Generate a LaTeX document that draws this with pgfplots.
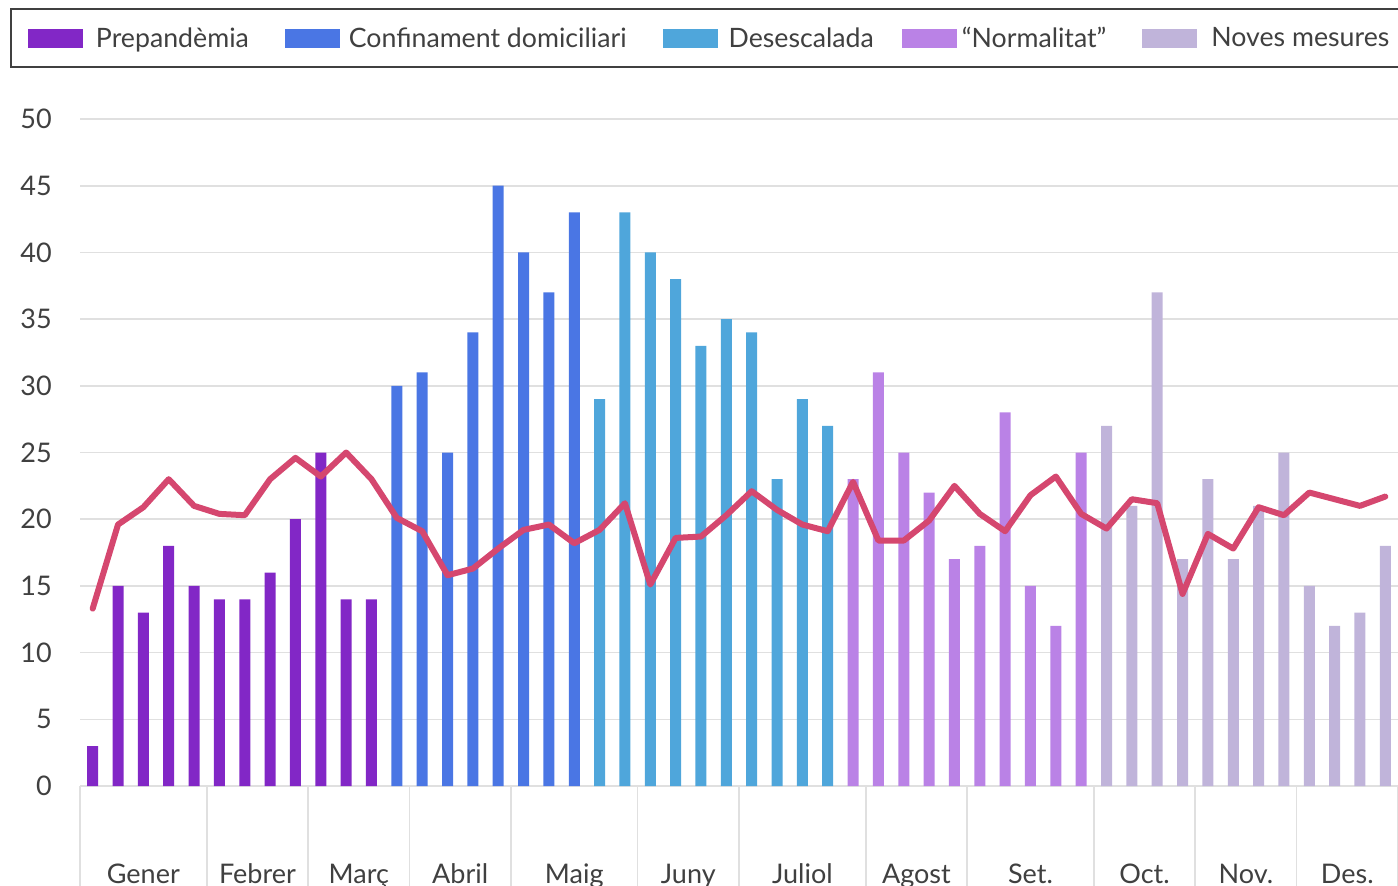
\documentclass[border=0pt]{standalone}
\usepackage{fontspec}
\setmainfont{Lato}
\usepackage{pgfplots}
\pgfplotsset{compat=1.18}
\definecolor{cA}{HTML}{8227C6}
\definecolor{cB}{HTML}{4A76E4}
\definecolor{cC}{HTML}{4FA6DB}
\definecolor{cD}{HTML}{BA82E6}
\definecolor{cE}{HTML}{C0B4DA}
\definecolor{cL}{HTML}{D5476F}
\definecolor{txt}{HTML}{404040}
\definecolor{grd}{HTML}{E0E0E0}
\begin{document}
\begin{tikzpicture}
\begin{axis}[
  name=ax,
  scale only axis,
  width=1318pt, height=667pt,
  xmin=-0.5, xmax=51.5, ymin=0, ymax=50,
  axis line style={draw=none},
  ymajorgrids, grid style={grd, line width=1.6pt},
  ytick={0,5,...,50},
  major tick length=0pt,
  xtick pos=bottom,
  /pgf/number format/assume math mode=true,
  yticklabel style={font=\fontsize{27}{32}\selectfont, text=txt, anchor=east, inner sep=0pt, xshift=-28pt},
  xtick={2,6.5,10.5,14.5,19,23.5,28,32.5,37,41.5,45.5,49.5},
  xticklabels={Gener,Febrer,Març,Abril,Maig,Juny,Juliol,Agost,Set.,Oct.,Nov.,Des.},
  xticklabel style={font=\fontsize{27}{32}\selectfont, text=txt, anchor=base, inner sep=0pt, yshift=-97pt},
  extra x ticks={-0.5,4.5,8.5,12.5,16.5,21.5,25.5,30.5,34.5,39.5,43.5,47.5,51.5},
  extra x tick labels={},
  extra x tick style={major tick length=110pt, tick align=outside, xtick pos=bottom, xmajorgrids=false, tick style={grd, line width=1.6pt}},
  clip=false,
  legend columns=5,
  legend style={at={(-0.05311,1.16642)}, anchor=north west, draw=txt, line width=2pt,
    font=\fontsize{26.7}{31}\selectfont, text=txt, inner xsep=17pt, inner ysep=16pt,
    /tikz/column 1/.style={column sep=11pt},
    /tikz/column 2/.style={column sep=34pt},
    /tikz/column 3/.style={column sep=7pt},
    /tikz/column 4/.style={column sep=34pt},
    /tikz/column 5/.style={column sep=9pt},
    /tikz/column 6/.style={column sep=26pt},
    /tikz/column 7/.style={column sep=3pt},
    /tikz/column 8/.style={column sep=34pt},
    /tikz/column 9/.style={column sep=12pt}},
]
\addplot[ybar, bar width=11pt, fill=cA, draw=none, legend image code/.code={\fill[cA] (0pt,-9.8pt) rectangle (55pt,8.5pt);}] coordinates {
(0,3) (1,15) (2,13) (3,18) (4,15) (5,14) (6,14) (7,16) (8,20) (9,25) (10,14) (11,14)};
\addlegendentry{Prepandèmia}
\addplot[ybar, bar width=11pt, fill=cB, draw=none, legend image code/.code={\fill[cB] (0pt,-9.8pt) rectangle (55pt,8.5pt);}] coordinates {
(12,30) (13,31) (14,25) (15,34) (16,45) (17,40) (18,37) (19,43)};
\addlegendentry{Confinament domiciliari}
\addplot[ybar, bar width=11pt, fill=cC, draw=none, legend image code/.code={\fill[cC] (0pt,-9.8pt) rectangle (55pt,8.5pt);}] coordinates {
(20,29) (21,43) (22,40) (23,38) (24,33) (25,35) (26,34) (27,23) (28,29) (29,27)};
\addlegendentry{Desescalada}
\addplot[ybar, bar width=11pt, fill=cD, draw=none, legend image code/.code={\fill[cD] (0pt,-9.8pt) rectangle (55pt,8.5pt);}] coordinates {
(30,23) (31,31) (32,25) (33,22) (34,17) (35,18) (36,28) (37,15) (38,12) (39,25)};
\addlegendentry{“Normalitat”}
\addplot[ybar, bar width=11pt, fill=cE, draw=none, legend image code/.code={\fill[cE] (0pt,-9.8pt) rectangle (55pt,8.5pt);}] coordinates {
(40,27) (41,21) (42,37) (43,17) (44,23) (45,17) (46,21) (47,25) (48,15) (49,12) (50,13) (51,18)};
\addlegendentry{Noves mesures}
\addplot[sharp plot, cL, line width=6pt, line join=round, line cap=round, forget plot] coordinates {
(0,13.3) (1,19.6) (2,20.9) (3,23.0) (4,21.0) (5,20.4) (6,20.3) (7,23.0) (8,24.6) (9,23.2)
(10,25.0) (11,23.0) (12,20.1) (13,19.1) (14,15.8) (15,16.3) (16,17.8) (17,19.2) (18,19.6) (19,18.2)
(20,19.2) (21,21.2) (22,15.1) (23,18.6) (24,18.7) (25,20.3) (26,22.1) (27,20.7) (28,19.6) (29,19.1)
(30,22.8) (31,18.4) (32,18.4) (33,19.9) (34,22.5) (35,20.4) (36,19.1) (37,21.8) (38,23.2) (39,20.4)
(40,19.3) (41,21.5) (42,21.2) (43,14.4) (44,18.9) (45,17.8) (46,20.9) (47,20.3) (48,22.0) (49,21.5)
(50,21.0) (51,21.7)};
\end{axis}
\pgfresetboundingbox
\path[use as bounding box] ([shift={(-80pt,-99pt)}]ax.south west) rectangle ([shift={(0pt,119pt)}]ax.north east);
\end{tikzpicture}
\end{document}
